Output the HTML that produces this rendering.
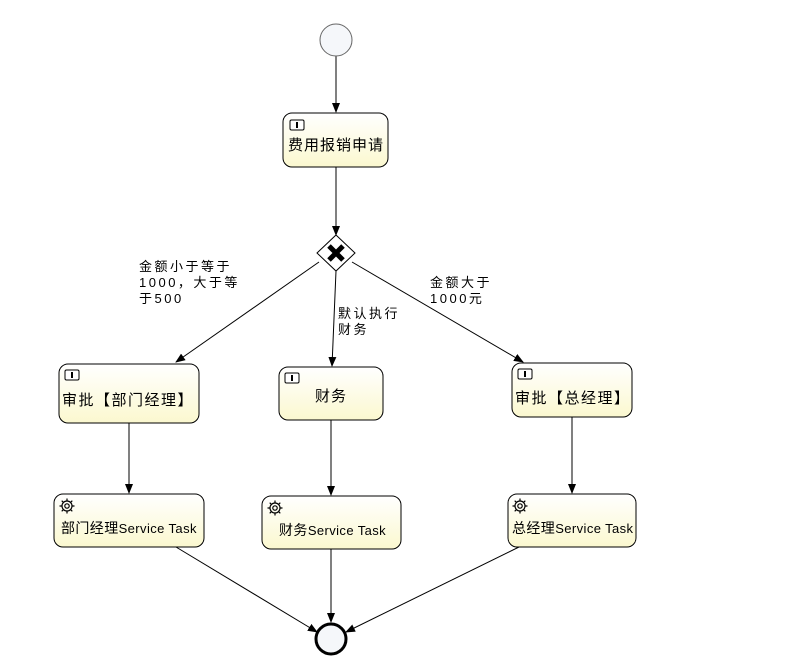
<!DOCTYPE html>
<html><head><meta charset="utf-8"><style>
html,body{margin:0;padding:0;background:#fff;}
svg text{font-family:"Liberation Sans","Noto Sans CJK SC",sans-serif;fill:#000;}
</style></head><body>
<svg width="796" height="666" viewBox="0 0 796 666" xmlns="http://www.w3.org/2000/svg">
<defs>
<linearGradient id="g" x1="0" y1="0" x2="0" y2="1">
<stop offset="0" stop-color="#ffffff"/><stop offset="1" stop-color="#fbf8cf"/>
</linearGradient>
<marker id="a" markerWidth="10" markerHeight="10" refX="9" refY="5" orient="auto" markerUnits="userSpaceOnUse">
<path d="M0,1 L10,5 L0,9 z" fill="#000"/>
</marker>
<g id="user"><rect x="0" y="0" width="14" height="10" rx="1.5" fill="#fff" stroke="#000" stroke-width="1"/><rect x="6" y="2" width="2" height="6" fill="#000"/></g>
<g id="gear" fill="none" stroke="#000" stroke-width="1.2"><circle cx="8" cy="8" r="5"/><circle cx="8" cy="8" r="2.2"/><path d="M8,0.5v2.5M8,13v2.5M0.5,8h2.5M13,8h2.5M2.7,2.7l1.8,1.8M11.5,11.5l1.8,1.8M2.7,13.3l1.8-1.8M11.5,4.5l1.8-1.8"/></g>
</defs>
<g stroke="#000" stroke-width="1" fill="none">
<line x1="336" y1="56" x2="336" y2="112" marker-end="url(#a)"/>
<line x1="336" y1="167" x2="336" y2="235" marker-end="url(#a)"/>
<line x1="319" y1="262" x2="176" y2="362" marker-end="url(#a)"/>
<line x1="336" y1="271" x2="332" y2="366" marker-end="url(#a)"/>
<line x1="352" y1="262" x2="523" y2="362" marker-end="url(#a)"/>
<line x1="129" y1="423" x2="129" y2="493" marker-end="url(#a)"/>
<line x1="331" y1="420" x2="331" y2="495" marker-end="url(#a)"/>
<line x1="572" y1="417" x2="572" y2="493" marker-end="url(#a)"/>
<line x1="176" y1="547" x2="317" y2="632" marker-end="url(#a)"/>
<line x1="331" y1="549" x2="331" y2="622" marker-end="url(#a)"/>
<line x1="519" y1="547" x2="346" y2="632" marker-end="url(#a)"/>
</g>
<circle cx="336" cy="40" r="16" fill="#f5f7fa" stroke="#666" stroke-width="1"/>
<circle cx="331" cy="639" r="15" fill="#f5f7fa" stroke="#000" stroke-width="3"/>
<polygon points="336,235 355,253 336,271 317,253" fill="#fff" stroke="#000" stroke-width="1"/>
<path d="M329,246 L343,260 M343,246 L329,260" stroke="#000" stroke-width="5"/>
<g stroke="#000" stroke-width="1" fill="url(#g)">
<rect x="283" y="113" width="105" height="54" rx="9"/>
<rect x="59" y="364" width="140" height="59" rx="9"/>
<rect x="279" y="367" width="104" height="53" rx="9"/>
<rect x="512" y="363" width="120" height="54" rx="9"/>
<rect x="54" y="494" width="150" height="53" rx="9"/>
<rect x="262" y="496" width="139" height="53" rx="9"/>
<rect x="508" y="494" width="128" height="53" rx="9"/>
</g>
<use href="#user" x="290" y="120"/>
<use href="#user" x="65" y="370"/>
<use href="#user" x="285" y="373"/>
<use href="#user" x="518" y="369"/>
<use href="#gear" x="59" y="498"/>
<use href="#gear" x="267" y="500"/>
<use href="#gear" x="512" y="498"/>
<g font-size="15">
<text x="288" y="150" letter-spacing="1">费用报销申请</text>
<text x="62" y="405" letter-spacing="1.5">审批【部门经理】</text>
<text x="315" y="401" letter-spacing="1">财务</text>
<text x="515" y="403" letter-spacing="1.5">审批【总经理】</text>
</g>
<g font-size="14">
<text x="61" y="533" letter-spacing="0.4">部门经理<tspan font-size="13">Service Task</tspan></text>
<text x="279" y="535" letter-spacing="0.4">财务<tspan font-size="13">Service Task</tspan></text>
<text x="512" y="533" letter-spacing="0.4">总经理<tspan font-size="13">Service Task</tspan></text>
</g>
<g font-size="13" letter-spacing="2.5">
<text x="139" y="271">金额小于等于</text>
<text x="139" y="287">1000，大于等</text>
<text x="139" y="303">于500</text>
<text x="338" y="318">默认执行</text>
<text x="338" y="334">财务</text>
<text x="430" y="287">金额大于</text>
<text x="430" y="303">1000元</text>
</g>
</svg>
</body></html>
